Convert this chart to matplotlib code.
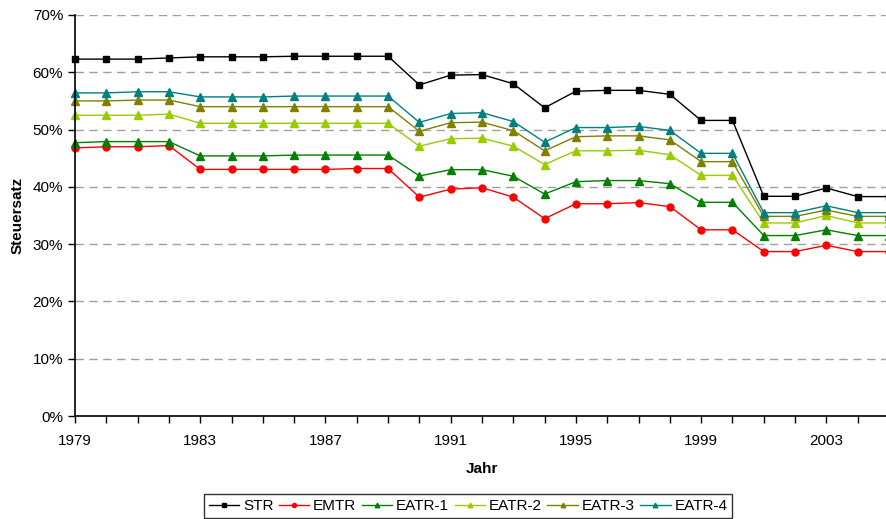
import matplotlib
matplotlib.use("Agg")
import matplotlib.pyplot as plt
from matplotlib.ticker import FuncFormatter, MultipleLocator

plt.rcParams["font.family"] = ["Liberation Sans", "DejaVu Sans"]

years = list(range(1979, 2006))
tick_years = list(range(1979, 2006, 4))

str_rate = [62.3, 62.3, 62.3, 62.5, 62.7, 62.7, 62.7, 62.8, 62.8, 62.8, 62.8,
            57.8, 59.5, 59.6, 58.0, 53.8, 56.7, 56.85, 56.85, 56.15, 51.6, 51.6,
            38.35, 38.35, 39.8, 38.3, 38.3]
emtr = [46.8, 47.0, 47.0, 47.2, 43.05, 43.05, 43.05, 43.05, 43.05, 43.2, 43.2,
        38.2, 39.6, 39.85, 38.2, 34.45, 37.05, 37.05, 37.25, 36.55, 32.5, 32.5,
        28.7, 28.7, 29.8, 28.7, 28.7]
eatr1 = [47.7, 47.9, 47.9, 47.9, 45.4, 45.4, 45.4, 45.55, 45.55, 45.55, 45.55,
         41.9, 43.0, 43.0, 41.85, 38.75, 40.9, 41.1, 41.1, 40.55, 37.3, 37.3,
         31.5, 31.5, 32.5, 31.5, 31.5]
eatr2 = [52.5, 52.5, 52.5, 52.7, 51.1, 51.1, 51.1, 51.1, 51.1, 51.1, 51.1,
         47.1, 48.4, 48.5, 47.1, 43.9, 46.3, 46.3, 46.4, 45.6, 42.0, 42.0,
         33.7, 33.7, 35.0, 33.7, 33.7]
eatr3 = [55.0, 55.0, 55.15, 55.15, 54.0, 54.0, 54.0, 54.0, 54.0, 54.0, 54.0,
         49.7, 51.2, 51.3, 49.8, 46.3, 48.75, 48.9, 48.9, 48.2, 44.4, 44.4,
         34.85, 34.85, 35.95, 34.85, 34.85]
eatr4 = [56.4, 56.4, 56.6, 56.6, 55.7, 55.7, 55.7, 55.85, 55.85, 55.85, 55.85,
         51.25, 52.8, 52.95, 51.4, 47.8, 50.35, 50.35, 50.55, 49.85, 45.85, 45.85,
         35.5, 35.5, 36.7, 35.5, 35.5]

series = [
    ("STR", str_rate, "#000000", "s", 5),
    ("EMTR", emtr, "#ff0000", "o", 5),
    ("EATR-1", eatr1, "#008000", "^", 5.5),
    ("EATR-2", eatr2, "#99cc00", "^", 5.5),
    ("EATR-3", eatr3, "#808000", "^", 5.5),
    ("EATR-4", eatr4, "#008080", "^", 5.5),
]

fig = plt.figure(figsize=(8.86, 5.19), dpi=100)
ax = fig.add_axes([75 / 886, 103 / 519, 814 / 886, 401 / 519])

for name, vals, color, marker, ms in series:
    ax.plot(years, vals, color=color, marker=marker, markersize=ms,
            linewidth=1.0, label=name, clip_on=False)

ax.set_xlim(1979, 2005)
ax.set_ylim(0, 70)
ax.set_xticks(tick_years)
ax.xaxis.set_minor_locator(MultipleLocator(1))
ax.yaxis.set_major_locator(MultipleLocator(10))
ax.yaxis.set_major_formatter(FuncFormatter(lambda v, p: f"{v:.0f}%"))
ax.tick_params(axis="both", which="both", direction="out", length=5,
               width=1, labelsize=11, colors="black")
ax.tick_params(axis="x", which="major", pad=8)
ax.grid(axis="y", linestyle=(0, (6, 4)), color="#a0a0a0", linewidth=1)
ax.set_axisbelow(True)
for side in ["top", "right"]:
    ax.spines[side].set_visible(False)
for side in ["left", "bottom"]:
    ax.spines[side].set_linewidth(1.2)

ax.set_ylabel("Steuersatz", fontsize=11, fontweight="bold", labelpad=6)
ax.set_xlabel("Jahr", fontsize=11, fontweight="bold", labelpad=10)

leg = fig.legend(loc="lower center", bbox_to_anchor=(468 / 886, -0.012), ncol=6,
                 fontsize=11, frameon=True, fancybox=False, edgecolor="black",
                 handlelength=2.0, handletextpad=0.25, columnspacing=0.35,
                 borderpad=0.3, markerscale=0.6)
leg.get_frame().set_linewidth(1.0)

fig.savefig("out.png", dpi=100)
